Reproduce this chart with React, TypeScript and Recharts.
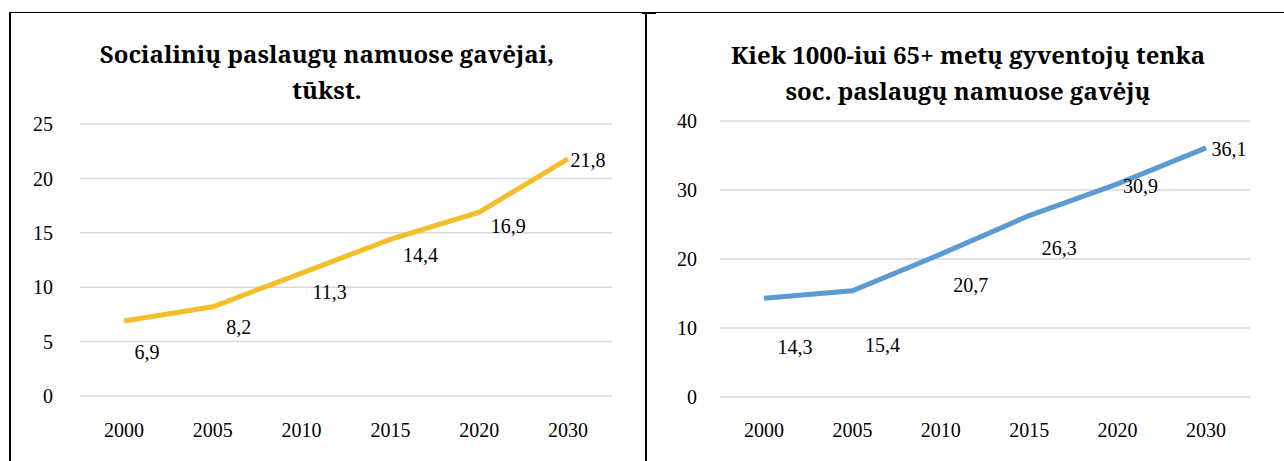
import React from "react";
import { LineChart, Line, XAxis, YAxis, CartesianGrid } from "recharts";

const years = ["2000", "2005", "2010", "2015", "2020", "2030"];
const recipients = [6.9, 8.2, 11.3, 14.4, 16.9, 21.8];
const per1000 = [14.3, 15.4, 20.7, 26.3, 30.9, 36.1];
const leftTicks = [0, 5, 10, 15, 20, 25];
const rightTicks = [0, 10, 20, 30, 40];
const leftTitle = ["Socialinių paslaugų namuose gavėjai,", "tūkst."];
const rightTitle = ["Kiek 1000-iui 65+ metų gyventojų tenka", "soc. paslaugų namuose gavėjų"];

// label placement relative to each point (dx, dy of text centre)
const leftLabelOffsets = [[23, 31], [26, 20], [28, 19], [30, 16], [29, 14], [20, 1]];
const rightLabelOffsets = [[31, 49], [30, 54], [30, 31], [30, 32], [23, 2], [23, 1]];

const leftData = years.map((y, i) => ({ year: y, v: recipients[i] }));
const rightData = years.map((y, i) => ({ year: y, v: per1000[i] }));

const FONT = "'Liberation Serif', 'Times New Roman', serif";
const TITLE_FONT = "'Noto Serif', 'Liberation Serif', serif";

const makeLabel = (offsets: number[][]) => (props: any) => {
  const { x, y, value, index } = props;
  const [dx, dy] = offsets[index] || [0, 0];
  return (
    <text
      x={x + dx}
      y={y + dy}
      textAnchor="middle"
      dominantBaseline="central"
      fontFamily={FONT}
      fontSize={20}
      fill="#000"
    >
      {Number(value).toFixed(1).replace(".", ",")}
    </text>
  );
};

const Title = ({ lines, cx, top }: { lines: string[]; cx: number; top: number }) => (
  <div
    style={{
      position: "absolute",
      left: cx - 300,
      top,
      width: 600,
      textAlign: "center",
      fontFamily: TITLE_FONT,
      fontWeight: "bold",
      fontSize: 24,
      lineHeight: "36px",
      color: "#000",
    }}
  >
    {lines.map((l, i) => (
      <div key={i}>{l}</div>
    ))}
  </div>
);

const tickStyle = { fontFamily: FONT, fontSize: 20, fill: "#000" };

export default function App() {
  return (
    <div
      style={{
        position: "absolute",
        left: 0,
        top: 0,
        width: 1284,
        height: 461,
        background: "#fff",
        overflow: "hidden",
      }}
    >
      {/* borders */}
      <div style={{ position: "absolute", left: 9, top: 12, width: 1275, height: 1, background: "#000" }} />
      <div style={{ position: "absolute", left: 9, top: 12, width: 2, height: 449, background: "#000" }} />
      <div style={{ position: "absolute", left: 645, top: 12, width: 2, height: 449, background: "#000" }} />
      <div style={{ position: "absolute", left: 642, top: 12, width: 14, height: 2, background: "#000" }} />

      <div style={{ position: "absolute", left: 0, top: 0 }}>
        <LineChart
          width={646}
          height={461}
          data={leftData}
          margin={{ top: 124, right: 34, bottom: 35, left: 30 }}
        >
          <CartesianGrid vertical={false} stroke="#d9d9d9" strokeWidth={1.5} />
          <XAxis
            dataKey="year"
            axisLine={false}
            tickLine={false}
            tickSize={0}
            tickMargin={27}
            height={30}
            padding={{ left: 44, right: 44 }}
            tick={tickStyle}
            interval={0}
          />
          <YAxis
            domain={[0, 25]}
            ticks={leftTicks}
            axisLine={false}
            tickLine={false}
            tickSize={0}
            tickMargin={27}
            width={50}
            tick={tickStyle}
          />
          <Line
            dataKey="v"
            stroke="#F4BD2C"
            strokeWidth={5}
            dot={false}
            isAnimationActive={false}
            label={makeLabel(leftLabelOffsets)}
          />
        </LineChart>
      </div>

      <div style={{ position: "absolute", left: 646, top: 0 }}>
        <LineChart
          width={638}
          height={461}
          data={rightData}
          margin={{ top: 121, right: 34, bottom: 34, left: 24 }}
        >
          <CartesianGrid vertical={false} stroke="#d9d9d9" strokeWidth={1.5} />
          <XAxis
            dataKey="year"
            axisLine={false}
            tickLine={false}
            tickSize={0}
            tickMargin={26}
            height={30}
            padding={{ left: 44, right: 44 }}
            tick={tickStyle}
            interval={0}
          />
          <YAxis
            domain={[0, 40]}
            ticks={rightTicks}
            axisLine={false}
            tickLine={false}
            tickSize={0}
            tickMargin={23}
            width={50}
            tick={tickStyle}
          />
          <Line
            dataKey="v"
            stroke="#5B9AD2"
            strokeWidth={5}
            dot={false}
            isAnimationActive={false}
            label={makeLabel(rightLabelOffsets)}
          />
        </LineChart>
      </div>

      <Title lines={leftTitle} cx={327} top={36} />
      <Title lines={rightTitle} cx={968} top={37} />
    </div>
  );
}
